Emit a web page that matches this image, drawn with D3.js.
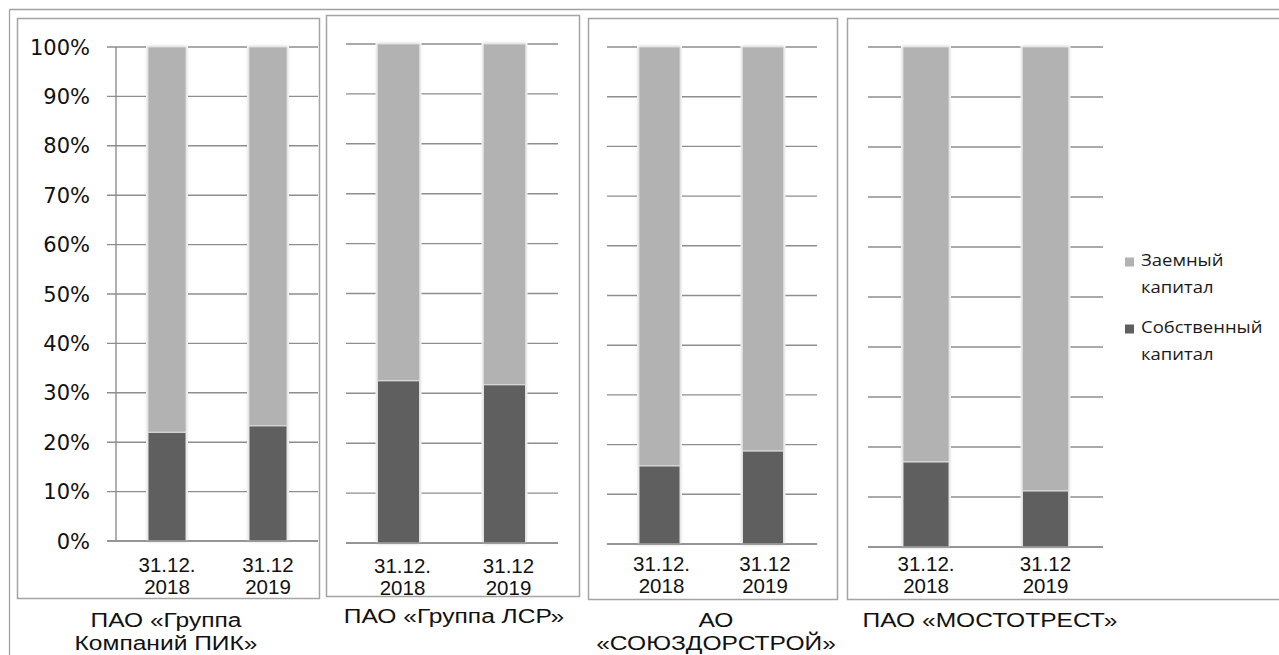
<!DOCTYPE html>
<html><head><meta charset="utf-8">
<script src="https://cdn.jsdelivr.net/npm/d3@7"></script>
<style>
html,body{margin:0;padding:0;background:#fff;}
svg{display:block;}
</style></head>
<body>
<svg id="chart" width="1279" height="655"></svg>
<script>
// ---------- DATA ----------
const companies = [
  ["ПАО «Группа", "Компаний ПИК»"],
  ["ПАО «Группа ЛСР»"],
  ["АО", "«СОЮЗДОРСТРОЙ»"],
  ["ПАО «МОСТОТРЕСТ»"]
];
const periods = ["31.12.\n2018", "31.12\n2019"];
// Собственный капитал, % (per company, per period)
const ownCapital = [
  [22.0, 23.3],
  [32.5, 31.7],
  [15.7, 18.7],
  [17.0, 11.2]
];
// Заемный капитал, %
const borrowedCapital = [
  [78.0, 76.7],
  [67.5, 68.3],
  [84.3, 81.3],
  [83.0, 88.8]
];
const seriesNames = ["Заемный\nкапитал", "Собственный\nкапитал"];
const yTicks = [0, 10, 20, 30, 40, 50, 60, 70, 80, 90, 100];
const yTickLabels = ["0%", "10%", "20%", "30%", "40%", "50%", "60%", "70%", "80%", "90%", "100%"];

// ---------- LAYOUT ----------
const colors = {own: "#5f5f5f", borrowed: "#b2b2b2", grid: "#8e8e8e", border: "#a4a4a4"};
const panels = [
  {box: [17, 18, 319, 598], grid: [107, 318], axisX: 116, y: [541, 47], centers: [167, 268], bw: 38, catY: 572, catDx: 0, label: [166, 627]},
  {box: [326, 15, 579, 596], grid: [346, 558], axisX: null, y: [543, 44], centers: [398.5, 504.5], bw: 42, catY: 573, catDx: 4, label: [454, 623]},
  {box: [588, 18, 837, 599], grid: [607, 817], axisX: null, y: [544, 47], centers: [659.5, 763], bw: 41, catY: 571, catDx: 2, label: [716, 627]},
  {box: [847, 18, 1300, 599], grid: [868, 1103], axisX: null, y: [547, 47], centers: [926, 1045.5], bw: 46, catY: 571, catDx: 0, label: [990, 627]}
];

const svg = d3.select("#chart");
const defs = svg.append("defs");
const f = defs.append("filter").attr("id", "glow").attr("x", "-30%").attr("y", "-5%").attr("width", "160%").attr("height", "110%");
f.append("feGaussianBlur").attr("in", "SourceAlpha").attr("stdDeviation", 1.6).attr("result", "b");
f.append("feFlood").attr("flood-color", "#000").attr("flood-opacity", 0.22);
f.append("feComposite").attr("in2", "b").attr("operator", "in").attr("result", "s");
const fm = f.append("feMerge");
fm.append("feMergeNode").attr("in", "s");
fm.append("feMergeNode").attr("in", "SourceGraphic");

// outer frame
svg.append("line").attr("x1", 9.5).attr("x2", 1279).attr("y1", 9.5).attr("y2", 9.5)
  .attr("stroke", "#a0a0a0").attr("stroke-width", 1.3);
svg.append("line").attr("x1", 9.5).attr("x2", 9.5).attr("y1", 9.5).attr("y2", 655)
  .attr("stroke", "#a0a0a0").attr("stroke-width", 1.3);

panels.forEach((p, i) => {
  const g = svg.append("g");
  const [bx0, by0, bx1, by1] = p.box;
  g.append("rect").attr("x", bx0 + 0.5).attr("y", by0 + 0.5).attr("width", bx1 - bx0).attr("height", by1 - by0)
    .attr("fill", "#fff").attr("stroke", colors.border).attr("stroke-width", 1.5);

  const y = d3.scaleLinear().domain([0, 100]).range(p.y);
  const step = p.centers[1] - p.centers[0];
  const pad = 1 - p.bw / step;
  const x = d3.scaleBand().domain(periods)
    .range([p.centers[0] - step / 2, p.centers[1] + step / 2])
    .paddingInner(pad).paddingOuter(pad / 2);

  // gridlines
  g.append("g").selectAll("line").data(yTicks).join("line")
    .attr("x1", p.grid[0]).attr("x2", p.grid[1])
    .attr("y1", d => y(d)).attr("y2", d => y(d))
    .attr("stroke", colors.grid).attr("stroke-width", 1.4);

  if (p.axisX !== null) {
    g.append("line").attr("x1", p.axisX).attr("x2", p.axisX).attr("y1", y(100)).attr("y2", y(0))
      .attr("stroke", colors.grid).attr("stroke-width", 1.4);
    g.append("g").selectAll("text").data(yTicks).join("text")
      .attr("x", 90).attr("y", d => y(d)).attr("dy", "0.36em")
      .attr("text-anchor", "end")
      .attr("font-family", "DejaVu Sans").attr("font-size", 21).attr("fill", "#111")
      .text((d, k) => yTickLabels[k]);
  }

  // bars
  const bars = g.append("g");
  periods.forEach((per, k) => {
    const own = ownCapital[i][k], bor = borrowedCapital[i][k];
    const bx = x(per), bw = x.bandwidth();
    bars.append("rect").attr("x", bx - 2).attr("y", y(own + bor) - 1).attr("width", bw + 4)
      .attr("height", y(0) - y(own + bor) + 1).attr("fill", "#fff");
    const bg = bars.append("g").attr("filter", "url(#glow)");
    bg.append("rect").attr("x", bx).attr("y", y(own + bor)).attr("width", bw)
      .attr("height", y(own) - y(own + bor)).attr("fill", colors.borrowed)
      .attr("stroke", "#dadada").attr("stroke-width", 1);
    bg.append("rect").attr("x", bx).attr("y", y(own)).attr("width", bw)
      .attr("height", y(0) - y(own)).attr("fill", colors.own)
      .attr("stroke", "#e2e2e2").attr("stroke-width", 1);
  });
  // baseline redraw
  g.append("line").attr("x1", p.grid[0]).attr("x2", p.grid[1]).attr("y1", y(0)).attr("y2", y(0))
    .attr("stroke", colors.grid).attr("stroke-width", 1.4);

  // category labels
  periods.forEach(per => {
    const lines = per.split("\n");
    const t = g.append("text").attr("text-anchor", "middle")
      .attr("font-family", "Liberation Sans, Arial").attr("font-size", 20.5).attr("fill", "#111");
    lines.forEach((ln, j) => {
      t.append("tspan").attr("x", x(per) + x.bandwidth() / 2 + p.catDx).attr("y", p.catY + j * 21.5).text(ln);
    });
  });

  // company label (horizontally stretched like the source)
  const ct = g.append("text").attr("text-anchor", "middle")
    .attr("transform", `translate(${p.label[0]},0) scale(1.17,1)`)
    .attr("font-family", "Liberation Sans, Arial").attr("font-size", 21).attr("fill", "#111");
  companies[i].forEach((ln, j) => {
    ct.append("tspan").attr("x", 0).attr("y", p.label[1] + j * 23).text(ln);
  });
});

// legend
const legendColors = [colors.borrowed, colors.own];
const lg = svg.append("g").attr("font-family", "Open Sans").attr("font-size", 16.5).attr("fill", "#1a1a1a");
seriesNames.forEach((name, k) => {
  const yy = 266 + k * 67;
  lg.append("rect").attr("x", 1125).attr("y", yy - 8.5).attr("width", 9).attr("height", 9).attr("fill", legendColors[k]);
  const t = lg.append("text").attr("transform", `translate(1141,0) scale(1.12,1)`);
  name.split("\n").forEach((ln, j) => {
    t.append("tspan").attr("x", 0).attr("y", yy + j * 27).text(ln);
  });
});
</script>
</body></html>
